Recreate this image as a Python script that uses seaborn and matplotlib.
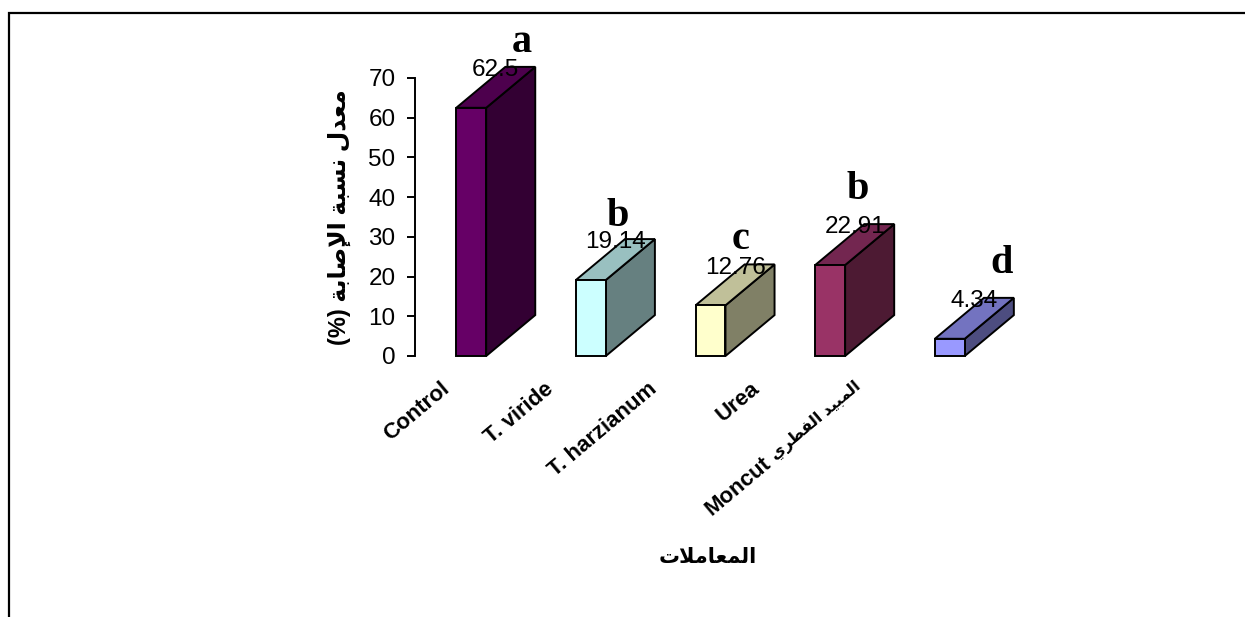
import numpy as np
import pandas as pd
import matplotlib
matplotlib.use("Agg")
import matplotlib.pyplot as plt
from matplotlib.patches import Polygon, Rectangle
import seaborn as sns

# ---- data -------------------------------------------------------------
treatments = ["Control", "T. viride", "T. harzianum", "Urea", "Moncut المبيد الفطري"]
infection = [62.5, 19.14, 12.76, 22.91, 4.34]
groups = ["a", "b", "c", "b", "d"]
y_ticks = [0, 10, 20, 30, 40, 50, 60, 70]

# ---- styling ----------------------------------------------------------
front_colors = ["#660066", "#CCFFFF", "#FFFFCC", "#993366", "#9999FF"]
top_colors = ["#4D004D", "#99C0C0", "#C0C099", "#732650", "#7373C0"]
side_colors = ["#330033", "#668080", "#808066", "#4D1A33", "#4D4D80"]
letter_dx = [0.42, 0.22, 0.25, 0.23, 0.43]
letter_dy = [14.1, 13.6, 14.2, 16.6, 16.6]

# ---- minimal Arabic shaping (contextual forms + visual order) ---------
_FORMS = {  # isolated, final, initial, medial
    "ا": (0xFE8D, 0xFE8E, None, None),
    "إ": (0xFE87, 0xFE88, None, None),
    "ب": (0xFE8F, 0xFE90, 0xFE91, 0xFE92),
    "ة": (0xFE93, 0xFE94, None, None),
    "ت": (0xFE95, 0xFE96, 0xFE97, 0xFE98),
    "د": (0xFEA9, 0xFEAA, None, None),
    "ر": (0xFEAD, 0xFEAE, None, None),
    "س": (0xFEB1, 0xFEB2, 0xFEB3, 0xFEB4),
    "ص": (0xFEB9, 0xFEBA, 0xFEBB, 0xFEBC),
    "ط": (0xFEC1, 0xFEC2, 0xFEC3, 0xFEC4),
    "ع": (0xFEC9, 0xFECA, 0xFECB, 0xFECC),
    "ف": (0xFED1, 0xFED2, 0xFED3, 0xFED4),
    "ل": (0xFEDD, 0xFEDE, 0xFEDF, 0xFEE0),
    "م": (0xFEE1, 0xFEE2, 0xFEE3, 0xFEE4),
    "ن": (0xFEE5, 0xFEE6, 0xFEE7, 0xFEE8),
    "ي": (0xFEF1, 0xFEF2, 0xFEF3, 0xFEF4),
}
_LAM_ALEF = {"ا": (0xFEFB, 0xFEFC), "إ": (0xFEF9, 0xFEFA), "أ": (0xFEF7, 0xFEF8)}
_MIRROR = {"(": ")", ")": "("}


def _shape_run(run):
    units = []
    i = 0
    while i < len(run):
        c = run[i]
        if c == "ل" and i + 1 < len(run) and run[i + 1] in _LAM_ALEF:
            units.append(("LA", run[i + 1]))
            i += 2
        else:
            units.append(("C", c))
            i += 1

    def joins_left(u):
        return u[0] == "C" and u[1] in _FORMS and _FORMS[u[1]][2] is not None

    def is_arabic(u):
        return u[0] == "LA" or u[1] in _FORMS

    out = []
    for k, u in enumerate(units):
        prev = units[k - 1] if k > 0 else None
        nxt = units[k + 1] if k + 1 < len(units) else None
        jp = prev is not None and joins_left(prev)
        if u[0] == "LA":
            iso, fin = _LAM_ALEF[u[1]]
            out.append(chr(fin if jp else iso))
            continue
        c = u[1]
        if c not in _FORMS:
            out.append(c)
            continue
        iso, fin, ini, med = _FORMS[c]
        jn = ini is not None and nxt is not None and is_arabic(nxt)
        if jp and jn:
            out.append(chr(med))
        elif jp:
            out.append(chr(fin))
        elif jn:
            out.append(chr(ini))
        else:
            out.append(chr(iso))
    return "".join(out)


def rtl(text):
    """Shape an Arabic phrase and return it in visual (left-to-right) order."""
    shaped = _shape_run(text)
    return "".join(_MIRROR.get(ch, ch) for ch in reversed(shaped))


def split_latin_arabic(text):
    """Split a label into its Latin prefix and its Arabic tail."""
    for idx, ch in enumerate(text):
        if ch in _FORMS:
            return text[:idx].strip(), text[idx:]
    return text, ""


# ---- figure -----------------------------------------------------------
sns.set_style("white")
plt.rcParams["font.family"] = ["Liberation Sans", "DejaVu Sans"]
plt.rcParams.update({"text.color": "black", "axes.labelcolor": "black",
                     "xtick.color": "black", "ytick.color": "black"})

W, H = 1245, 617
fig = plt.figure(figsize=(W / 100, H / 100), dpi=100)
ax = fig.add_axes([415 / W, 1 - 356 / H, 615 / W, 278 / H])

df = pd.DataFrame({"treatment": treatments, "value": infection})
sns.barplot(data=df, x="treatment", y="value", hue="treatment",
            palette=front_colors, saturation=1, legend=False, width=0.25,
            edgecolor="black", linewidth=1.4, ax=ax, zorder=3)

ax.set_xlim(-0.47, 4.67)
ax.set_ylim(0, 70)

# depth of the pseudo-3D boxes (category units / data units)
DX, DY = 0.41, 10.3

bars = sorted(ax.patches, key=lambda p: p.get_x())
for i, p in enumerate(bars):
    x0, w, h = p.get_x(), p.get_width(), p.get_height()
    top = Polygon([(x0, h), (x0 + w, h), (x0 + w + DX, h + DY), (x0 + DX, h + DY)],
                  closed=True, facecolor=top_colors[i], edgecolor="black",
                  linewidth=1.4, clip_on=False, zorder=2)
    side = Polygon([(x0 + w, 0), (x0 + w + DX, DY), (x0 + w + DX, h + DY), (x0 + w, h)],
                   closed=True, facecolor=side_colors[i], edgecolor="black",
                   linewidth=1.4, clip_on=False, zorder=2)
    ax.add_patch(side)
    ax.add_patch(top)
    p.set_clip_on(False)
    cx = x0 + w / 2
    ax.text(cx + DX / 2, h + DY - 0.8, f"{infection[i]:g}", ha="center", va="center",
            fontsize=17.5, color="black", zorder=5, clip_on=False)
    ax.text(cx + letter_dx[i], h + letter_dy[i], groups[i], ha="center",
            va="baseline", fontsize=29, fontweight="bold", color="black",
            family="Liberation Serif", zorder=5, clip_on=False)

# axes
for s in ["top", "right", "bottom"]:
    ax.spines[s].set_visible(False)
ax.spines["left"].set_linewidth(1.4)
ax.spines["left"].set_color("black")
ax.set_yticks(y_ticks)
ax.tick_params(axis="y", length=6, width=1.4, pad=8, labelsize=17.5,
               left=True, colors="black")
ax.tick_params(axis="x", length=0, pad=16)

# category labels, slanted; a label with an Arabic tail gets the Arabic
# part as the tick label (smaller) and its Latin part placed just before it
ANG = 40
label_pos = np.arange(len(treatments)) * 0.865 - 0.26
parts = [split_latin_arabic(t) for t in treatments]
tick_texts = [rtl(ar) if ar else lat for lat, ar in parts]
ax.set_xticks(label_pos)
ax.set_xticklabels(tick_texts, fontsize=16, fontweight="bold", rotation=ANG,
                   ha="right", rotation_mode="anchor", color="black")
for tl, (lat, ar) in zip(ax.get_xticklabels(), parts):
    if ar:
        tl.set_fontsize(11.5)
        tl.set_fontweight("bold")
        c, s = np.cos(np.radians(ANG)), np.sin(np.radians(ANG))
        hbox, gap = 13.4, 4.0
        ax.annotate(lat, xy=(0, 0), xycoords=tl,
                    xytext=(hbox * s - gap * c, -gap * s - 1.5),
                    textcoords="offset points", ha="right", va="bottom",
                    rotation=ANG, rotation_mode="anchor", fontsize=16,
                    fontweight="bold", color="black", annotation_clip=False)

ax.set_ylabel(rtl("معدل نسبة الإصابة (%)"), fontsize=17, fontweight="bold")
ax.yaxis.set_label_coords(-0.104, 0.5)
ax.set_xlabel(rtl("المعاملات"), fontsize=15, fontweight="bold")
ax.xaxis.set_label_coords(0.476, -0.69)

# outer frame
fig.add_artist(Rectangle((9 / W, -0.1), 1.2, 1 - 12.5 / H + 0.1, fill=False,
                         edgecolor="black", linewidth=1.6,
                         transform=fig.transFigure, clip_on=False))

fig.savefig("out.png", dpi=100)
